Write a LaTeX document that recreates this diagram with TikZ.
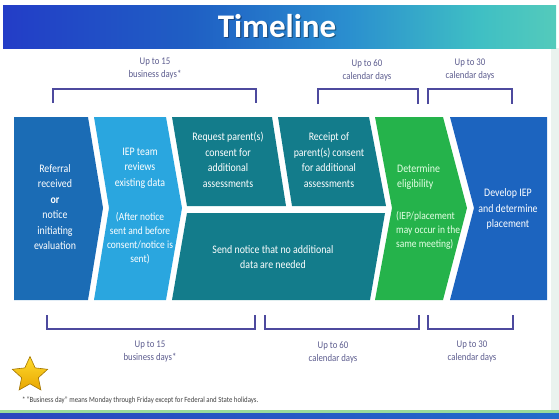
\documentclass[tikz,border=0pt]{standalone}
\usepackage{fontspec}
\setmainfont{Carlito}[FakeStretch=0.86]
\newfontfamily\titlefont{Carlito}
\usetikzlibrary{shapes.geometric}

\definecolor{refblue}{HTML}{1B6CB5}
\definecolor{reviewblue}{HTML}{2AA6DF}
\definecolor{stepteal}{HTML}{137C8B}
\definecolor{eligreen}{HTML}{25B34B}
\definecolor{iepblue}{HTML}{1C64BF}
\definecolor{spanline}{HTML}{4D4A9E}
\definecolor{labelgray}{HTML}{5C5C8E}
\definecolor{edgegray}{HTML}{EAF2EE}
\definecolor{stripgreen}{HTML}{9ADC9A}
\definecolor{stripblue}{HTML}{2A46BE}
\definecolor{startop}{HTML}{FFDB2E}
\definecolor{starbottom}{HTML}{E8A600}
\definecolor{bannerA}{HTML}{3B3FD6}
\definecolor{bannerB}{HTML}{2433C8}
\definecolor{bannerC}{HTML}{1F5FC4}
\definecolor{bannerD}{HTML}{2A8ECF}
\definecolor{bannerE}{HTML}{3FBFC4}
\definecolor{bannerF}{HTML}{6FD9B0}
\definecolor{bannerG}{HTML}{8EE6A0}
\definecolor{bannerH}{HTML}{6CD0C8}

\pgfdeclarehorizontalshading{bannershade}{100bp}{
  color(0bp)=(bannerA);
  color(20bp)=(bannerB);
  color(42bp)=(bannerC);
  color(56bp)=(bannerD);
  color(68bp)=(bannerE);
  color(84bp)=(bannerF);
  color(94bp)=(bannerG);
  color(100bp)=(bannerH)}

\tikzset{
  boxtext/.style={text=white, align=center, inner sep=0pt,
    font=\fontsize{11.5}{15.5}\selectfont},
  subtext/.style={boxtext, font=\fontsize{11}{14}\selectfont},
  bracketline/.style={draw=spanline, line width=2.5pt},
  spanlabel/.style={text=labelgray, align=center, inner sep=0pt,
    font=\fontsize{10.2}{13}\selectfont},
}

\begin{document}
\begin{tikzpicture}[x=1pt,y=-1pt]
\useasboundingbox (0,0) rectangle (559,418);

% Page edge
\fill[edgegray] (551,48) rectangle (559,410);

% ---- Banner ----
\shade[shading=bannershade] (3,5) rectangle (556,48);
\node (titleshadow) [text=black, opacity=0.35,
  font=\titlefont\fontsize{33}{36}\selectfont\bfseries] at (278.2,27.5) {Timeline};
\node (title) [text=white,
  font=\titlefont\fontsize{33}{36}\selectfont\bfseries] at (277,26) {Timeline};

% ---- Top brackets ----
\draw[bracketline] (53,103) -- (53,89) -- (256,89) -- (256,103);
\node (topspanA) [spanlabel] at (155,69) {Up to 15\\business days*};

\draw[bracketline] (318,104) -- (318,89) -- (418,89) -- (418,104);
\node (topspanB) [spanlabel] at (367,70) {Up to 60\\calendar days};

\draw[bracketline] (428,104) -- (428,89) -- (512,89) -- (512,104);
\node (topspanC) [spanlabel] at (470,70) {Up to 30\\calendar days};

% ---- Steps ----
% Referral
\fill[refblue] (14,117) -- (88,117) -- (103,208) -- (88,300) -- (14,300) -- cycle;
\node (referral) [boxtext] at (55,207)
  {Referral\\received\\\textbf{or}\\notice\\initiating\\evaluation};

% Review of data
\fill[reviewblue] (94,117) -- (166,117) -- (182,208) -- (166,300) -- (94,300)
  -- (109,208) -- cycle;
\node (review) [boxtext] at (140,168) {IEP team\\reviews\\existing data};
\node (reviewnote) [subtext] at (140,238)
  {(After notice\\sent and before\\consent/notice is\\sent)};

% Request consent
\fill[stepteal] (172,117) -- (272,117) -- (286,206) -- (187,206) -- cycle;
\node (request) [boxtext] at (228,160)
  {Request parent(s)\\consent for\\additional\\assessments};

% Receipt of consent
\fill[stepteal] (278,117) -- (369,117) -- (386,206) -- (292,206) -- cycle;
\node (receipt) [boxtext] at (329,160)
  {Receipt of\\parent(s) consent\\for additional\\assessments};

% Send notice
\fill[stepteal] (187,213) -- (385,213) -- (370,300) -- (172,300) -- cycle;
\node (sendnotice) [boxtext] at (273,257)
  {Send notice that no additional\\data are needed};

% Eligibility
\fill[eligreen] (375,117) -- (443,117) -- (467,208) -- (443,300) -- (375,300)
  -- (392,208) -- cycle;
\node (eligible) [boxtext, align=left, anchor=west, text=white!90!green]
  at (397,177) {Determine\\eligibility};
\node (eligiblenote) [subtext, align=left, anchor=west, text=white!90!green]
  at (396,230) {(IEP/placement\\may occur in the\\same meeting)};

% Develop IEP
\fill[iepblue] (450,117) -- (547,117) -- (547,300) -- (450,300) -- (474,208) -- cycle;
\node (develop) [boxtext] at (508,209) {Develop IEP\\and determine\\placement};

% ---- Bottom brackets ----
\draw[bracketline] (47,315) -- (47,329) -- (255,329) -- (255,315);
\node (botspanA) [spanlabel] at (150,352) {Up to 15\\business days*};

\draw[bracketline] (265,315) -- (265,329) -- (419,329) -- (419,315);
\node (botspanB) [spanlabel] at (333,352) {Up to 60\\calendar days};

\draw[bracketline] (428,315) -- (428,329) -- (513,329) -- (513,315);
\node (botspanC) [spanlabel] at (472,352) {Up to 30\\calendar days};

% ---- Footer ----
\node (goldstar) [star, star points=5, star point ratio=2.1, minimum size=37pt,
  inner sep=0pt, top color=startop, bottom color=starbottom,
  draw=starbottom!70!black, line width=0.6pt] at (30,375) {};
\node (footnote) [anchor=west, inner sep=0pt, text=black!75,
  font=\fontsize{7.9}{8}\selectfont] at (22,400)
  {*\,“Business day” means Monday through Friday except for Federal and State holidays.};

\fill[stripgreen] (0,410) rectangle (559,413);
\shade[left color=stripblue, right color=stripblue!80!cyan] (0,413) rectangle (559,418);

\end{tikzpicture}
\end{document}
